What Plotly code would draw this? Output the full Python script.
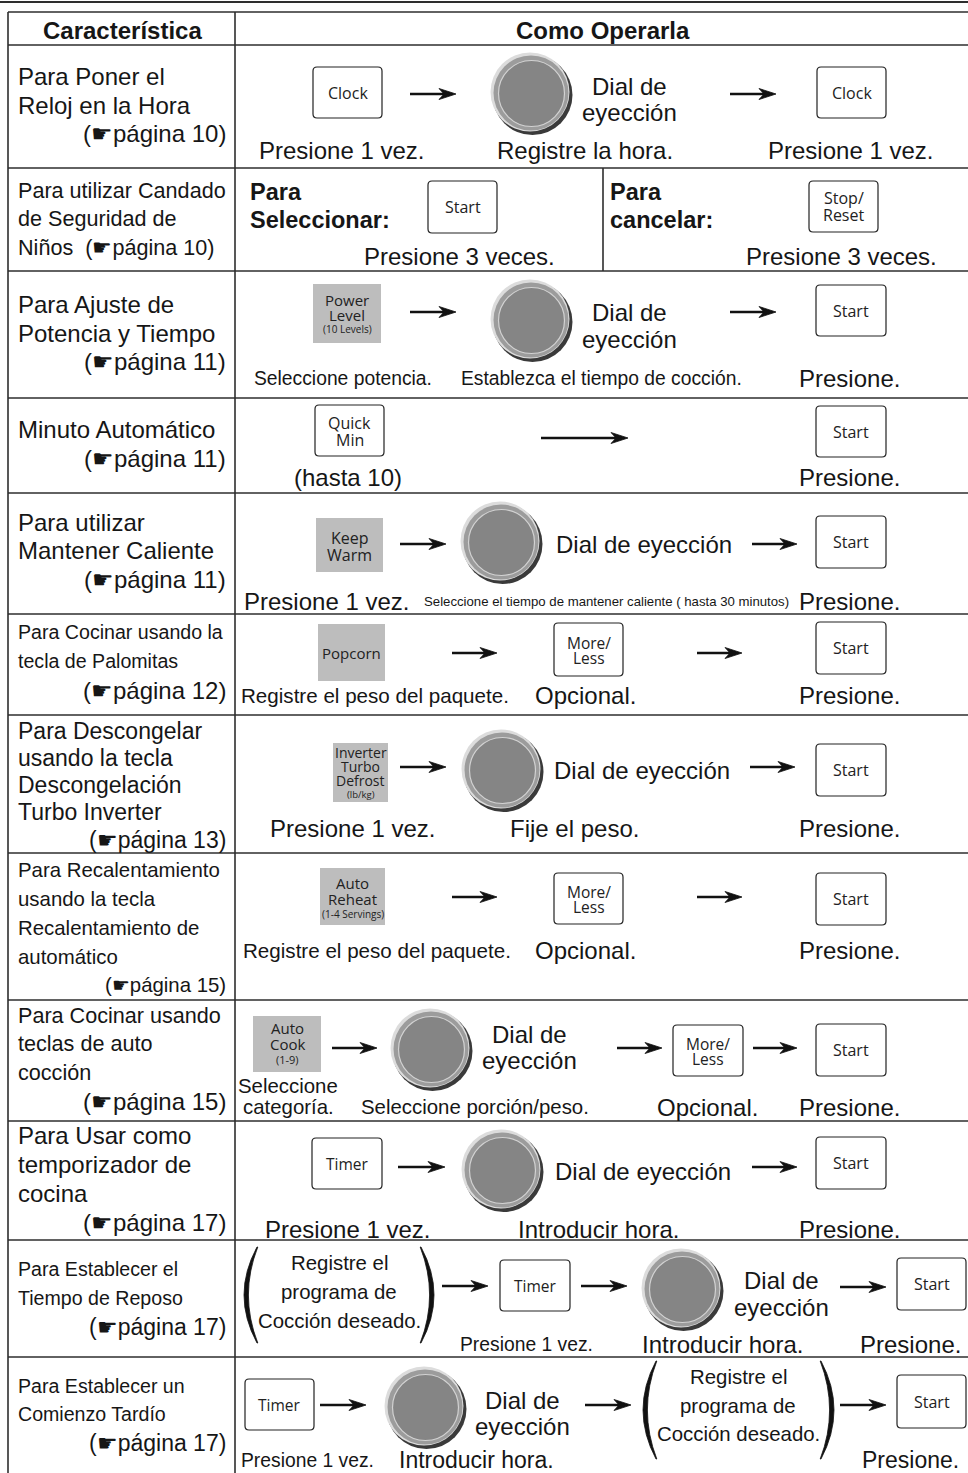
import plotly.graph_objects as go

W, H = 968, 1473

# ---------------- content ----------------
HEADERS = ["Característica", "Como Operarla"]
ROW_EDGES = [12, 45, 168, 271, 398, 493, 614, 715, 853, 1000, 1121, 1240, 1357]

FEATURE_LINES = [
    ["Para Poner el", "Reloj en la Hora"],
    ["Para utilizar Candado", "de Seguridad de", "Niños  (☛página 10)"],
    ["Para Ajuste de", "Potencia y Tiempo"],
    ["Minuto Automático"],
    ["Para utilizar", "Mantener Caliente"],
    ["Para Cocinar usando la", "tecla de Palomitas"],
    ["Para Descongelar", "usando la tecla", "Descongelación", "Turbo Inverter"],
    ["Para Recalentamiento", "usando la tecla", "Recalentamiento de", "automático"],
    ["Para Cocinar usando", "teclas de auto", "cocción"],
    ["Para Usar como", "temporizador de", "cocina"],
    ["Para Establecer el", "Tiempo de Reposo"],
    ["Para Establecer un", "Comienzo Tardío"],
]
PAGE_REFS = [10, None, 11, 11, 11, 12, 13, 15, 15, 17, 17, 17]

KEY_LABELS = {
    "clock": ["Clock"],
    "start": ["Start"],
    "stop": ["Stop/", "Reset"],
    "timer": ["Timer"],
    "quick": ["Quick", "Min"],
    "more": ["More/", "Less"],
    "power": ["Power", "Level", "(10 Levels)"],
    "keep": ["Keep", "Warm"],
    "popcorn": ["Popcorn"],
    "defrost": ["Inverter", "Turbo", "Defrost", "(lb/kg)"],
    "reheat": ["Auto", "Reheat", "(1-4 Servings)"],
    "autocook": ["Auto", "Cook", "(1-9)"],
}
GRAY_KEYS = {"power", "keep", "popcorn", "defrost", "reheat", "autocook"}

DIAL_TEXT = ["Dial de", "eyección"]
PAREN_TEXT = ["Registre el", "programa de", "Cocción deseado."]
LOCK_TEXT = [["Para", "Seleccionar:"], ["Para", "cancelar:"]]

CAPTIONS = [
    ["Presione 1 vez.", "Registre la hora.", "Presione 1 vez."],
    ["Presione 3 veces.", "Presione 3 veces."],
    ["Seleccione potencia.", "Establezca el tiempo de cocción.", "Presione."],
    ["(hasta 10)", "Presione."],
    ["Presione 1 vez.", "Seleccione el tiempo de mantener caliente ( hasta 30 minutos)", "Presione."],
    ["Registre el peso del paquete.", "Opcional.", "Presione."],
    ["Presione 1 vez.", "Fije el peso.", "Presione."],
    ["Registre el peso del paquete.", "Opcional.", "Presione."],
    ["Seleccione", "categoría.", "Seleccione porción/peso.", "Opcional.", "Presione."],
    ["Presione 1 vez.", "Introducir hora.", "Presione."],
    ["Presione 1 vez.", "Introducir hora.", "Presione."],
    ["Presione 1 vez.", "Introducir hora.", "Presione."],
]

# ---------------- styling ----------------
SANS = "Liberation Sans, Arial, Helvetica, sans-serif"
KEYF = "Open Sans, Noto Sans, sans-serif"
INK = "#161616"
LINE = "#2e2e2e"
GRAY = "#bdbdbd"

STY = {
    "r24": (SANS, 24), "r23": (SANS, 23), "r22": (SANS, 21.6), "r21": (SANS, 20.6),
    "c20": (SANS, 20.4), "c19": (SANS, 19.3), "c195": (SANS, 19.6), "c13": (SANS, 13.2),
}

# feature label layout: line y centres, style, page-ref y, page-ref style
FEATURE_Y = [
    [76, 105], [190, 218, 247], [304, 333], [429], [522, 550], [632, 661],
    [731, 758, 785, 812], [870, 899, 928, 957], [1015, 1043, 1072],
    [1135, 1164, 1193], [1269, 1298], [1386, 1414],
]
FEATURE_STY = ["r24", "r22", "r24", "r24", "r24", "c195", "r23", "c20", "r22", "r24", "c195", "c195"]
PAGE_Y = [133, None, 361, 458, 579, 690, 840, 985, 1101, 1222, 1327, 1443]
PAGE_STY = ["r24", None, "r24", "r24", "r24", "r24", "r23", "c20", "r24", "r24", "r23", "r23"]

# key inner text layout: (line offsets from centre, sizes)
KEY_TEXT_LAYOUT = {
    "clock": ([0], [16]),
    "start": ([0], [16]),
    "timer": ([0], [15.5]),
    "stop": ([-9, 8.5], [16, 16]),
    "quick": ([-8, 9], [16, 16]),
    "more": ([-7, 8], [15.5, 15.5]),
    "power": ([-14, 1, 15], [15, 15, 10]),
    "keep": ([-7, 10], [16, 16]),
    "popcorn": ([0], [15]),
    "defrost": ([-20, -6, 8, 22], [14, 14, 14, 9.5]),
    "reheat": ([-14, 2, 17], [15, 15, 10]),
    "autocook": ([-16, 0, 15], [15, 15, 11]),
}

# step layout per row
ROWS = [
    [("key", "clock", 313, 67, 382, 118), ("arrow", 410, 456, 94), ("dial", 531, 93),
     ("dial2", 629, 86, 112), ("arrow", 730, 776, 94), ("key", "clock", 817, 67, 886, 118),
     ("cap", 0, 341, 150, "r24"), ("cap", 1, 585, 150, "r24"), ("cap", 2, 850, 150, "r24")],
    [("lock", 0, 249, 192, 220), ("key", "start", 428, 181, 497, 233), ("cap", 0, 459, 256, "r24"),
     ("vline", 603, 168, 271),
     ("lock", 1, 609, 192, 220), ("key", "stop", 809, 181, 878, 232), ("cap", 1, 841, 256, "r24")],
    [("key", "power", 313, 284, 381, 343), ("arrow", 410, 456, 312), ("dial", 531, 320),
     ("dial2", 629, 312, 339), ("arrow", 730, 776, 312), ("key", "start", 816, 285, 886, 336),
     ("cap", 0, 343, 378, "c19"), ("cap", 1, 601, 378, "c19"), ("cap", 2, 849, 378, "r24")],
    [("key", "quick", 315, 405, 384, 456), ("arrow", 541, 628, 438),
     ("key", "start", 816, 406, 886, 457),
     ("cap", 0, 348, 477, "r24"), ("cap", 1, 849, 477, "r24")],
    [("key", "keep", 316, 518, 383, 572), ("arrow", 400, 446, 544), ("dial", 501, 542),
     ("dial1", 644, 544), ("arrow", 752, 797, 544), ("key", "start", 816, 516, 886, 568),
     ("cap", 0, 326, 601, "r24"), ("cap", 1, 606, 601, "c13"), ("cap", 2, 849, 601, "r24")],
    [("key", "popcorn", 318, 624, 385, 681), ("arrow", 452, 497, 653),
     ("key", "more", 554, 623, 623, 676), ("arrow", 697, 742, 653),
     ("key", "start", 816, 622, 886, 674),
     ("cap", 0, 375, 695, "r21"), ("cap", 1, 585, 695, "r24"), ("cap", 2, 849, 695, "r24")],
    [("key", "defrost", 333, 743, 388, 802), ("arrow", 400, 446, 767), ("dial", 502, 770),
     ("dial1", 642, 770), ("arrow", 750, 795, 767), ("key", "start", 816, 744, 886, 796),
     ("cap", 0, 352, 828, "r24"), ("cap", 1, 574, 828, "r24"), ("cap", 2, 849, 828, "r24")],
    [("key", "reheat", 320, 868, 385, 925), ("arrow", 452, 497, 897),
     ("key", "more", 554, 873, 623, 924), ("arrow", 697, 742, 897),
     ("key", "start", 816, 873, 886, 925),
     ("cap", 0, 377, 950, "r21"), ("cap", 1, 585, 950, "r24"), ("cap", 2, 849, 950, "r24")],
    [("key", "autocook", 253, 1016, 321, 1072), ("arrow", 332, 377, 1048), ("dial", 431, 1049),
     ("dial2", 529, 1034, 1060), ("arrow", 617, 662, 1048),
     ("key", "more", 673, 1025, 743, 1076), ("arrow", 753, 797, 1048),
     ("key", "start", 816, 1024, 886, 1076),
     ("cap", 0, 288, 1086, "c20"), ("cap", 1, 288, 1107, "c20"), ("cap", 2, 475, 1107, "c20"),
     ("cap", 3, 707, 1107, "r24"), ("cap", 4, 849, 1107, "r24")],
    [("key", "timer", 312, 1138, 382, 1189), ("arrow", 398, 445, 1167), ("dial", 502, 1170),
     ("dial1", 643, 1171), ("arrow", 752, 797, 1167), ("key", "start", 816, 1137, 886, 1189),
     ("cap", 0, 347, 1229, "r24"), ("cap", 1, 598, 1229, "r24"), ("cap", 2, 849, 1229, "r24")],
    [("paren", 257, 421, 1247, 1343, 339, [1263, 1292, 1321]), ("arrow", 442, 488, 1286),
     ("key", "timer", 500, 1260, 570, 1311), ("arrow", 581, 627, 1286), ("dial", 682, 1289),
     ("dial2", 781, 1280, 1307), ("arrow", 840, 886, 1287), ("key", "start", 897, 1258, 966, 1310),
     ("cap", 0, 526, 1344, "c19"), ("cap", 1, 722, 1344, "r24"), ("cap", 2, 910, 1344, "r24")],
    [("key", "timer", 245, 1379, 314, 1430), ("arrow", 320, 366, 1405), ("dial", 425, 1407),
     ("dial2", 522, 1400, 1426), ("arrow", 585, 631, 1405),
     ("paren", 656, 821, 1361, 1459, 738, [1377, 1406, 1434]), ("arrow", 840, 886, 1405),
     ("key", "start", 897, 1375, 966, 1428),
     ("cap", 0, 307, 1460, "c19"), ("cap", 1, 476, 1460, "r23"), ("cap", 2, 910, 1460, "r23")],
]

shapes = []
annos = []


def text(s, x, y, family, size, anchor="center", color=INK):
    annos.append(dict(text=s, x=x, y=y, xref="x", yref="y", showarrow=False,
                      xanchor=anchor, yanchor="middle", borderpad=0,
                      font=dict(family=family, size=size, color=color)))


def hline(y, x0=8, x1=W, w=1.6):
    shapes.append(dict(type="line", x0=x0, x1=x1, y0=y, y1=y, xref="x", yref="y",
                       line=dict(color=LINE, width=w)))


def vline(x, y0, y1, w=1.6):
    shapes.append(dict(type="line", x0=x, x1=x, y0=y0, y1=y1, xref="x", yref="y",
                       line=dict(color=LINE, width=w)))


def rrect(x0, y0, x1, y1, r=4):
    p = (f"M{x0+r},{y0} L{x1-r},{y0} Q{x1},{y0} {x1},{y0+r} L{x1},{y1-r} "
         f"Q{x1},{y1} {x1-r},{y1} L{x0+r},{y1} Q{x0},{y1} {x0},{y1-r} "
         f"L{x0},{y0+r} Q{x0},{y0} {x0+r},{y0} Z")
    shapes.append(dict(type="path", path=p, xref="x", yref="y", fillcolor="white",
                       line=dict(color="#222222", width=1.2)))


def circle(cx, cy, r, fill, line=None, lw=0):
    shapes.append(dict(type="circle", x0=cx - r, x1=cx + r, y0=cy - r, y1=cy + r,
                       xref="x", yref="y", fillcolor=fill,
                       line=dict(color=line or fill, width=lw)))


def key(name, x0, y0, x1, y1):
    if name in GRAY_KEYS:
        shapes.append(dict(type="rect", x0=x0, x1=x1, y0=y0, y1=y1, xref="x", yref="y",
                           fillcolor=GRAY, line=dict(width=0)))
    else:
        rrect(x0, y0, x1, y1)
    cx, cy = (x0 + x1) / 2, (y0 + y1) / 2
    offs, sizes = KEY_TEXT_LAYOUT[name]
    for s, o, sz in zip(KEY_LABELS[name], offs, sizes):
        text(s, cx, cy + o, KEYF, sz, color="#222222")


def dial(cx, cy, r=40):
    circle(cx + 1.5, cy + 2, r, "#3a3a3a")
    circle(cx - 1, cy - 1, r - 0.5, "#dcdcdc")
    circle(cx, cy, r - 2.5, "#9c9c9c")
    circle(cx + 0.5, cy + 0.5, r - 7, "#858585", "#d2d2d2", 1.2)


def arrow(x0, x1, y):
    shapes.append(dict(type="line", x0=x0, x1=x1 - 10, y0=y, y1=y, xref="x", yref="y",
                       line=dict(color="#111111", width=2.6)))
    p = f"M{x1},{y} L{x1-17},{y-5.5} L{x1-12},{y} L{x1-17},{y+5.5} Z"
    shapes.append(dict(type="path", path=p, xref="x", yref="y", fillcolor="#111111",
                       line=dict(color="#111111", width=0.8)))


def paren(x, y0, y1, side):
    ym = (y0 + y1) / 2
    d = -13 if side == "l" else 13
    t = 2 if side == "l" else -2
    p = (f"M{x},{y0} Q{x + 2*d},{ym} {x},{y1} L{x + t*0.4},{y1} "
         f"Q{x + 2*d + 4*t},{ym} {x + t*0.4},{y0} Z")
    shapes.append(dict(type="path", path=p, xref="x", yref="y", fillcolor="#111111",
                       line=dict(color="#111111", width=0.8)))


# ---------------- frame ----------------
hline(2, 0, W, 2.2)
for y in ROW_EDGES:
    hline(y)
vline(8, 12, H)
vline(235, 12, H)

text(f"<b>{HEADERS[0]}</b>", 122, 30, SANS, 24)
text(f"<b>{HEADERS[1]}</b>", 603, 30, SANS, 24)

# ---------------- feature column ----------------
for i, lines in enumerate(FEATURE_LINES):
    fam, sz = STY[FEATURE_STY[i]]
    for s, y in zip(lines, FEATURE_Y[i]):
        text(s, 17, y, fam, sz, anchor="left")
    if PAGE_REFS[i] is not None:
        pf, ps = STY[PAGE_STY[i]]
        text(f"(☛página {PAGE_REFS[i]})", 227, PAGE_Y[i], pf, ps, anchor="right")

# ---------------- operation column ----------------
for ri, steps in enumerate(ROWS):
    for st in steps:
        kind = st[0]
        if kind == "key":
            key(*st[1:])
        elif kind == "arrow":
            arrow(*st[1:])
        elif kind == "dial":
            dial(*st[1:])
        elif kind == "dial2":
            _, cx, ya, yb = st
            text(DIAL_TEXT[0], cx, ya, SANS, 24)
            text(DIAL_TEXT[1], cx, yb, SANS, 24)
        elif kind == "dial1":
            _, cx, y = st
            text(" ".join(DIAL_TEXT), cx, y, SANS, 24)
        elif kind == "cap":
            _, idx, x, y, sty = st
            fam, sz = STY[sty]
            text(CAPTIONS[ri][idx], x, y, fam, sz)
        elif kind == "lock":
            _, idx, x, ya, yb = st
            text(f"<b>{LOCK_TEXT[idx][0]}</b>", x, ya, SANS, 23.5, anchor="left")
            text(f"<b>{LOCK_TEXT[idx][1]}</b>", x, yb, SANS, 23.5, anchor="left")
        elif kind == "vline":
            vline(*st[1:])
        elif kind == "paren":
            _, xl, xr, y0, y1, cx, ys = st
            paren(xl, y0, y1, "l")
            paren(xr, y0, y1, "r")
            for s, y in zip(PAREN_TEXT, ys):
                text(s, cx, y, SANS, 20.4)

fig = go.Figure(go.Scatter(x=[], y=[]))
fig.update_layout(
    width=W, height=H, margin=dict(l=0, r=0, t=0, b=0),
    paper_bgcolor="white", plot_bgcolor="white", showlegend=False,
    xaxis=dict(range=[0, W], visible=False, fixedrange=True),
    yaxis=dict(range=[H, 0], visible=False, fixedrange=True),
    shapes=shapes, annotations=annos,
)
fig.write_html("out.html", include_plotlyjs=True, config={"displayModeBar": False},
               post_script="document.body.style.margin='0';")
